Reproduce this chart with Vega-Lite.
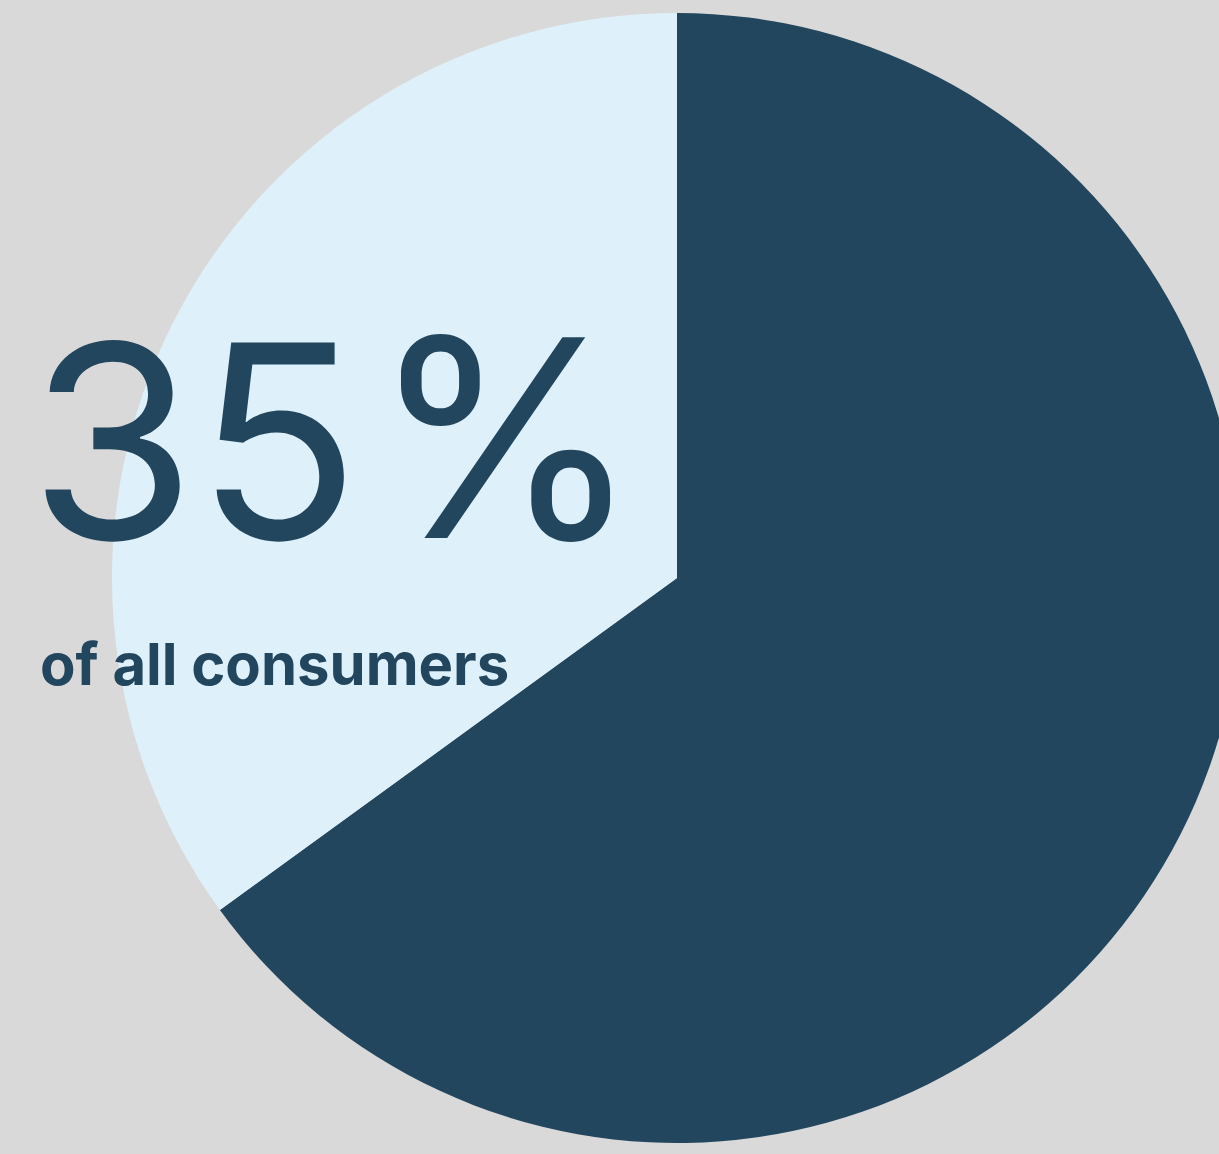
{
  "$schema": "https://vega.github.io/schema/vega-lite/v6.json",
  "width": 1219,
  "height": 1154,
  "padding": 0,
  "autosize": "none",
  "background": "#d9d9d9",
  "config": {"view": {"stroke": null}},
  "layer": [
    {
      "data": {"values": [
        {"group": "other consumers", "share": 65, "rank": 1},
        {"group": "these consumers", "share": 35, "rank": 2}
      ]},
      "mark": {"type": "arc", "radius": 565, "x": 677, "y": 578, "stroke": null},
      "encoding": {
        "theta": {"field": "share", "type": "quantitative", "stack": true},
        "order": {"field": "rank", "type": "quantitative"},
        "color": {
          "field": "group", "type": "nominal",
          "scale": {"domain": ["other consumers", "these consumers"], "range": ["#23465f", "#def1fa"]},
          "legend": null
        }
      }
    },
    {
      "data": {"values": [{"label": "35"}]},
      "mark": {"type": "text", "x": 29, "y": 539, "align": "left", "baseline": "alphabetic", "font": "Inter", "fontSize": 270, "fontWeight": 400, "color": "#23465f"},
      "encoding": {"text": {"field": "label", "type": "nominal"}}
    },
    {
      "data": {"values": [{"label": "%"}]},
      "mark": {"type": "text", "x": 370, "y": 538, "align": "left", "baseline": "alphabetic", "font": "Inter", "fontSize": 276, "fontWeight": 400, "color": "#23465f"},
      "encoding": {"text": {"field": "label", "type": "nominal"}}
    },
    {
      "data": {"values": [{"label": "of all consumers"}]},
      "mark": {"type": "text", "x": 40, "y": 685, "align": "left", "baseline": "alphabetic", "font": "Inter", "fontSize": 58, "fontWeight": 700, "color": "#23465f"},
      "encoding": {"text": {"field": "label", "type": "nominal"}}
    }
  ]
}
